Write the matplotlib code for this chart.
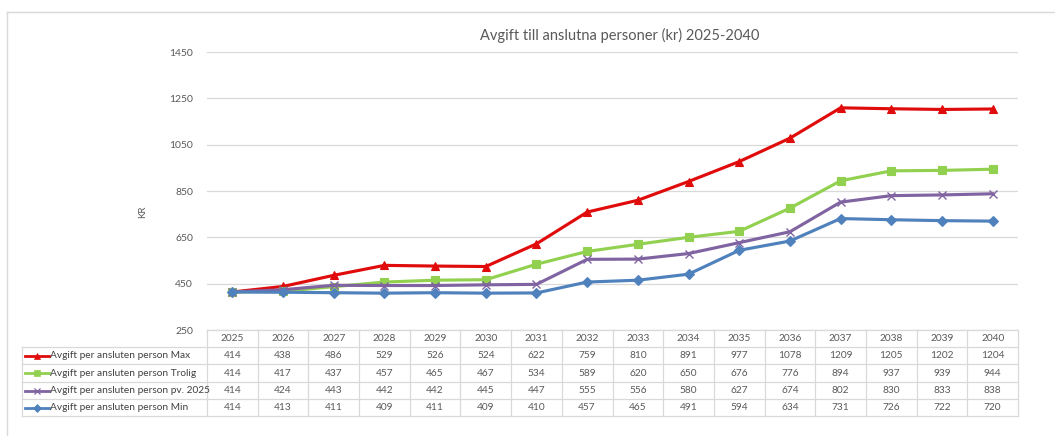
import matplotlib
matplotlib.use("Agg")
import matplotlib.pyplot as plt
from matplotlib.lines import Line2D
import matplotlib.transforms as mtransforms

plt.rcParams['font.family'] = ['Lato', 'DejaVu Sans']

years = [str(y) for y in range(2025, 2041)]
series_names = [
    "Avgift per ansluten person Max",
    "Avgift per ansluten person Trolig",
    "Avgift per ansluten person pv. 2025",
    "Avgift per ansluten person Min",
]
max_vals = [414, 438, 486, 529, 526, 524, 622, 759, 810, 891, 977, 1078, 1209, 1205, 1202, 1204]
trolig_vals = [414, 417, 437, 457, 465, 467, 534, 589, 620, 650, 676, 776, 894, 937, 939, 944]
pv_vals = [414, 424, 443, 442, 442, 445, 447, 555, 556, 580, 627, 674, 802, 830, 833, 838]
min_vals = [414, 413, 411, 409, 411, 409, 410, 457, 465, 491, 594, 634, 731, 726, 722, 720]
yticks = [250, 450, 650, 850, 1050, 1250, 1450]
title = "Avgift till anslutna personer (kr) 2025-2040"
ylabel = "KR"

all_vals = [max_vals, trolig_vals, pv_vals, min_vals]
colors = ["#E00B0B", "#92D050", "#8064A2", "#4F81BD"]
markers = ["^", "s", "x", "D"]
msizes = [6, 6, 6, 4.8]

W, H = 1055, 436
fig = plt.figure(figsize=(W / 100, H / 100), dpi=100)

L, R, T, B = 207, 1018, 52, 330
ax = fig.add_axes([L / W, 1 - B / H, (R - L) / W, (B - T) / H])

x = list(range(len(years)))
for vals, c, m, ms in zip(all_vals, colors, markers, msizes):
    mew = 1.0 if m == "x" else 0.8
    ax.plot(x, vals, color=c, lw=2.25, marker=m, ms=ms, mec=c, mfc=c, mew=mew, zorder=3)

ax.set_xlim(-0.5, len(years) - 0.5)
ax.set_ylim(250, 1450)
ax.set_yticks(yticks)
ax.set_yticklabels([str(t) for t in yticks], fontsize=7.5, color="#595959")
ax.tick_params(axis="y", length=0, pad=10)
ax.set_xticks([])
ax.grid(axis="y", color="#D9D9D9", lw=0.9)
ax.set_axisbelow(True)
for s in ax.spines.values():
    s.set_visible(False)

fig.text(620 / W, 1 - 35 / H, title, ha="center", va="center", fontsize=10.5, color="#595959")
fig.text(143 / W, 1 - 212 / H, ylabel, ha="center", va="center", rotation=90, fontsize=7, color="#595959")

line_c = "#D9D9D9"
row_tops = [330, 347, 364, 382, 399, 416]
ftr = fig.transFigure
blend = mtransforms.blended_transform_factory(ax.transData, ftr)


def fy(py):
    return 1 - py / H


def fx(px):
    return px / W


for i, py in enumerate(row_tops):
    x0 = 207 if i == 0 else 22
    fig.add_artist(Line2D([fx(x0), fx(1018)], [fy(py), fy(py)], color=line_c, lw=0.9, transform=ftr))
for i in range(len(years) + 1):
    xb = i - 0.5
    fig.add_artist(Line2D([xb, xb], [fy(330), fy(416)], color=line_c, lw=0.9, transform=blend))
fig.add_artist(Line2D([fx(22), fx(22)], [fy(347), fy(416)], color=line_c, lw=0.9, transform=ftr))

for i, yr in enumerate(years):
    fig.text(i, fy(338.5), yr, transform=blend, ha="center", va="center", fontsize=7.3, color="#595959")

for r, (name, vals, c, m, ms) in enumerate(zip(series_names, all_vals, colors, markers, msizes)):
    yc = fy((row_tops[r + 1] + row_tops[r + 2]) / 2)
    fig.add_artist(Line2D([fx(25), fx(49)], [yc, yc], color=c, lw=2.0, transform=ftr))
    mew = 0.9 if m == "x" else 0.5
    fig.add_artist(Line2D([fx(37)], [yc], color=c, marker=m, ms=ms * 0.8, mfc=c, mec=c, mew=mew, transform=ftr))
    fig.text(fx(50), yc, name, ha="left", va="center", fontsize=7.3, color="#404040")
    for i, v in enumerate(vals):
        fig.text(i, yc, str(v), transform=blend, ha="center", va="center", fontsize=7.3, color="#595959")

fig.add_artist(Line2D([fx(7), fx(7)], [fy(12), 0], color="#D9D9D9", lw=1.0, transform=ftr))
fig.add_artist(Line2D([fx(7), 1], [fy(12), fy(12)], color="#D9D9D9", lw=1.0, transform=ftr))

fig.savefig("out.png", dpi=100)
